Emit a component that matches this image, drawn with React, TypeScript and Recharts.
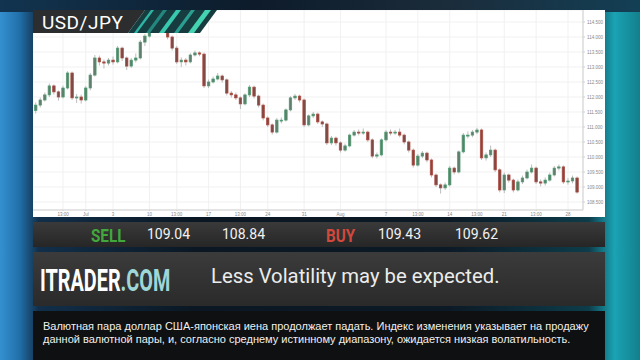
import { ComposedChart, Bar, XAxis, YAxis, CartesianGrid } from 'recharts';

// USD/JPY candles (price units)
const opens = [
  111.55, 111.73, 111.9, 112.07, 112.37, 112.17, 112.0, 112.3, 112.8, 111.97,
  112.0, 111.9, 112.3, 112.73, 113.3, 113.17, 113.13, 113.23, 113.17, 113.63,
  113.3, 113.03, 113.23, 113.3, 113.83, 114.03, 114.3, 114.37, 114.43, 114.3,
  114.0, 113.63, 113.17, 113.23, 113.17, 113.4, 113.47, 113.43, 112.37, 112.5,
  112.6, 112.7, 112.57, 112.13, 112.07, 111.97, 111.77, 112.07, 112.33, 112.03,
  111.73, 111.3, 111.07, 110.83, 111.23, 111.23, 111.57, 111.97, 112.03, 111.9,
  111.07, 111.37, 111.43, 111.17, 111.1, 110.47, 110.63, 110.47, 110.23, 110.37,
  110.73, 110.83, 110.8, 110.83, 110.57, 110.03, 110.07, 110.57, 110.83, 110.8,
  110.83, 110.73, 110.5, 110.23, 109.73, 110.03, 110.13, 109.9, 109.4, 109.07,
  108.97, 109.07, 109.63, 109.5, 110.17, 110.73, 110.73, 110.83, 110.9, 109.97,
  110.07, 110.23, 109.57, 108.9, 109.4, 109.23, 108.9, 109.17, 109.3, 109.5,
  109.63, 109.17, 109.13, 109.23, 109.4, 109.63, 109.67, 109.17, 109.2, 109.3,
];
const closes = [
  111.73, 111.9, 112.07, 112.37, 112.17, 112.0, 112.3, 112.8, 111.97, 112.0,
  111.9, 112.3, 112.73, 113.3, 113.17, 113.13, 113.23, 113.17, 113.63, 113.3,
  113.03, 113.23, 113.3, 113.83, 114.03, 114.3, 114.37, 114.43, 114.3, 114.0,
  113.63, 113.17, 113.23, 113.17, 113.4, 113.47, 113.43, 112.37, 112.5, 112.6,
  112.7, 112.57, 112.13, 112.07, 111.97, 111.77, 112.07, 112.33, 112.03, 111.73,
  111.3, 111.07, 110.83, 111.23, 111.23, 111.57, 111.97, 112.03, 111.9, 111.07,
  111.37, 111.43, 111.17, 111.1, 110.47, 110.63, 110.47, 110.23, 110.37, 110.73,
  110.83, 110.8, 110.83, 110.57, 110.03, 110.07, 110.57, 110.83, 110.8, 110.83,
  110.73, 110.5, 110.23, 109.73, 110.03, 110.13, 109.9, 109.4, 109.07, 108.97,
  109.07, 109.63, 109.5, 110.17, 110.73, 110.73, 110.83, 110.9, 109.97, 110.07,
  110.23, 109.57, 108.9, 109.4, 109.23, 108.9, 109.17, 109.3, 109.5, 109.63,
  109.17, 109.13, 109.23, 109.4, 109.63, 109.67, 109.17, 109.2, 109.3, 108.83,
];
const highs = [
  111.82, 111.98, 112.15, 112.45, 112.42, 112.22, 112.38, 112.86, 112.85, 112.1,
  112.08, 112.36, 112.8, 113.4, 113.38, 113.25, 113.3, 113.35, 113.7, 113.68,
  113.35, 113.3, 113.45, 113.9, 114.1, 114.38, 114.45, 114.49, 114.47, 114.35,
  114.05, 113.7, 113.32, 113.3, 113.46, 113.55, 113.52, 113.48, 112.58, 112.68,
  112.8, 112.75, 112.62, 112.2, 112.15, 112.02, 112.12, 112.4, 112.38, 112.08,
  111.78, 111.35, 111.12, 111.3, 111.32, 111.62, 112.03, 112.1, 112.08, 111.95,
  111.42, 111.5, 111.48, 111.22, 111.15, 110.7, 110.68, 110.52, 110.45, 110.78,
  110.9, 110.92, 110.95, 110.88, 110.62, 110.15, 110.62, 110.9, 110.92, 110.9,
  110.95, 110.78, 110.55, 110.28, 110.1, 110.2, 110.18, 109.95, 109.45, 109.12,
  109.15, 109.7, 109.68, 110.22, 110.8, 110.85, 110.9, 110.97, 110.95, 110.15,
  110.38, 110.28, 109.62, 109.48, 109.45, 109.28, 109.25, 109.38, 109.58, 109.75,
  109.68, 109.25, 109.32, 109.48, 109.7, 109.75, 109.72, 109.3, 109.38, 109.35,
];
const lows = [
  111.45, 111.65, 111.85, 112.0, 112.08, 111.88, 111.95, 112.25, 111.9, 111.8,
  111.78, 111.85, 112.22, 112.68, 113.05, 112.95, 113.05, 113.08, 113.12, 113.2,
  112.9, 112.97, 113.15, 113.25, 113.7, 113.98, 114.22, 114.3, 114.2, 113.92,
  113.55, 113.1, 113.0, 113.05, 113.12, 113.35, 113.36, 112.3, 112.3, 112.45,
  112.55, 112.48, 112.05, 111.98, 111.9, 111.6, 111.72, 112.0, 111.95, 111.65,
  111.22, 111.0, 110.75, 110.78, 111.12, 111.18, 111.52, 111.9, 111.82, 111.0,
  111.02, 111.3, 111.1, 111.0, 110.4, 110.4, 110.38, 110.15, 110.18, 110.32,
  110.68, 110.72, 110.74, 110.5, 109.96, 109.95, 110.02, 110.52, 110.72, 110.74,
  110.66, 110.42, 110.15, 109.65, 109.68, 109.96, 109.82, 109.32, 109.0, 108.78,
  108.9, 109.02, 109.42, 109.45, 110.12, 110.62, 110.66, 110.76, 109.9, 109.88,
  110.0, 109.5, 108.82, 108.8, 109.15, 108.82, 108.85, 109.1, 109.25, 109.45,
  109.1, 109.02, 109.05, 109.18, 109.35, 109.55, 109.1, 109.08, 109.12, 108.78,
];

const tickIndex = [6, 11, 17, 25, 31, 38, 45, 51, 59, 67, 77, 84, 91, 97, 103, 110, 117];
const tickLabels = ['13:00', 'Jul', '3', '10', '13:00', '17', '13:00', '24', '31', 'Aug', '7', '13:00', '14', '13:00', '21', '13:00', '28'];
const priceTicks = [108.5, 109, 109.5, 110, 110.5, 111, 111.5, 112, 112.5, 113, 113.5, 114, 114.5];

const pair = 'USD/JPY';
const sellQuotes = ['109.04', '108.84'];
const buyQuotes = ['109.43', '109.62'];
const headline = 'Less Volatility may be expected.';
const commentLines = [
  'Валютная пара доллар США-японская иена продолжает падать. Индекс изменения указывает на продажу',
  'данной валютной пары, и, согласно среднему истинному диапазону, ожидается низкая волатильность.',
];

const candles = closes.map((c, i) => ({
  i,
  o: opens[i],
  h: highs[i],
  l: lows[i],
  c,
  range: [lows[i], highs[i]],
}));

const UP = '#4f9c73';
const DOWN = '#b14b42';

function Candle(props: any) {
  const { x, y, width, height, payload } = props;
  if (!payload) return null;
  const top = Math.min(y, y + height);
  const full = Math.abs(height);
  const ratio = full / (payload.h - payload.l || 1);
  const up = payload.c >= payload.o;
  const bodyTop = top + (payload.h - Math.max(payload.o, payload.c)) * ratio;
  const bodyH = Math.max(1, Math.abs(payload.o - payload.c) * ratio);
  const cx = x + width / 2;
  return (
    <g>
      <line x1={cx} x2={cx} y1={top} y2={top + full} stroke="#a0a0a0" strokeWidth={0.7} />
      <rect
        x={x}
        y={bodyTop}
        width={width}
        height={bodyH}
        fill={up ? '#5f7f6c' : '#7d4a45'}
        stroke={up ? UP : DOWN}
        strokeWidth={0.7}
      />
    </g>
  );
}

const abs = (left: number, top: number, w: number, h: number): any => ({
  position: 'absolute',
  left,
  top,
  width: w,
  height: h,
});

export default function App() {
  return (
    <div
      style={{
        position: 'fixed',
        left: 0,
        top: 0,
        width: 640,
        height: 360,
        overflow: 'hidden',
        fontFamily: 'Roboto, "Liberation Sans", sans-serif',
        background:
          'linear-gradient(90deg, #3590d0 0%, #2170aa 3%, #112f4a 6%, #0b1824 30%, #0c1a26 70%, #0d3c4a 92%, #1aa3b4 96%, #137f8c 100%)',
      }}
    >
      {/* top band */}
      <div style={{ ...abs(0, 0, 640, 12), background: 'linear-gradient(90deg, #123450, #0d1b2a 40%, #1b2c3b 70%, #133f55)' }} />

      {/* chart panel */}
      <div style={{ ...abs(33, 10, 572, 207), background: '#ffffff' }}>
        <ComposedChart width={572} height={207} data={candles} margin={{ top: 0, right: 0, bottom: 0, left: 0 }}>
          <CartesianGrid stroke="#eeeeee" strokeWidth={0.8} />
          <XAxis
            dataKey="i"
            type="number"
            domain={[-0.6, 120.3]}
            ticks={tickIndex}
            tickFormatter={(v: number) => tickLabels[tickIndex.indexOf(v)] ?? ''}
            height={7}
            tick={{ fontSize: 4.5, fill: '#888', fontFamily: 'Liberation Sans' }}
            tickSize={1}
            stroke="#d0d0d0"
            interval={0}
          />
          <YAxis
            orientation="right"
            domain={[108.233, 114.9]}
            ticks={priceTicks}
            tickFormatter={(v: number) => v.toFixed(3)}
            width={22}
            tick={{ fontSize: 4.5, fill: '#888', fontFamily: 'Liberation Sans' }}
            tickSize={2}
            stroke="#cfcfcf"
            interval={0}
          />
          <Bar dataKey="range" barSize={2.5} shape={Candle} isAnimationActive={false} />
        </ComposedChart>
      </div>

      {/* title tab */}
      <svg style={{ ...abs(33, 10, 200, 23) }} width={200} height={23}>
        <polygon points="0,0 112,0 95,23 0,23" fill="#2b2d2f" />
        <polygon points="112,0 184,0 167,23 95,23" fill="#173c3f" />
        <polygon points="118,0 121,0 104,23 101,23" fill="#2fb3a4" />
        <polygon points="130,0 134,0 117,23 113,23" fill="#23877f" />
        <polygon points="143,0 148,0 131,23 126,23" fill="#39c9ae" />
        <polygon points="158,0 162,0 145,23 141,23" fill="#2a9f91" />
        <polygon points="172,0 178,0 161,23 155,23" fill="#44d2b3" />
        <text x={9} y={19} fill="#ffffff" fontSize={19} fontFamily="Roboto, 'Liberation Sans'" letterSpacing={0.5}>
          {pair}
        </text>
      </svg>

      {/* quotes bar */}
      <div style={{ ...abs(33, 222, 572, 25), background: 'linear-gradient(180deg, #3a3a3a, #262626)' }}>
        <span style={{ position: 'absolute', left: 58, top: 2, fontSize: 19, fontWeight: 700, color: '#43a83c', transform: 'scaleX(0.8)', transformOrigin: 'left' }}>SELL</span>
        <span style={{ position: 'absolute', left: 114, top: 4, fontSize: 14, color: '#f2f2f2' }}>{sellQuotes[0]}</span>
        <span style={{ position: 'absolute', left: 189, top: 4, fontSize: 14, color: '#f2f2f2' }}>{sellQuotes[1]}</span>
        <span style={{ position: 'absolute', left: 293, top: 2, fontSize: 19, fontWeight: 700, color: '#d2483c', transform: 'scaleX(0.8)', transformOrigin: 'left' }}>BUY</span>
        <span style={{ position: 'absolute', left: 345, top: 4, fontSize: 14, color: '#f2f2f2' }}>{buyQuotes[0]}</span>
        <span style={{ position: 'absolute', left: 422, top: 4, fontSize: 14, color: '#f2f2f2' }}>{buyQuotes[1]}</span>
      </div>

      {/* brand + headline bar */}
      <div style={{ ...abs(33, 252, 572, 54), background: 'linear-gradient(180deg, #3b3b3b, #2a2a2a)' }}>
        <span
          style={{
            position: 'absolute',
            left: 7,
            top: 10,
            fontSize: 31,
            fontWeight: 700,
            color: '#ffffff',
            whiteSpace: 'nowrap',
            transform: 'scaleX(0.64)',
            transformOrigin: 'left',
          }}
        >
          ITRADER<span style={{ color: '#9fd6d6' }}>.COM</span>
        </span>
        <span style={{ position: 'absolute', left: 178, top: 12, fontSize: 20.3, color: '#ececec', whiteSpace: 'nowrap' }}>{headline}</span>
      </div>

      {/* comment */}
      <div style={{ ...abs(33, 311, 572, 49), background: '#0f1011' }}>
        {commentLines.map((line, k) => (
          <div
            key={k}
            style={{
              position: 'absolute',
              left: 10,
              top: 9 + k * 13,
              fontSize: 11,
              color: '#f0f0f0',
              whiteSpace: 'nowrap',
              fontFamily: '"Liberation Sans", Arial, sans-serif',
            }}
          >
            {line}
          </div>
        ))}
      </div>
    </div>
  );
}
